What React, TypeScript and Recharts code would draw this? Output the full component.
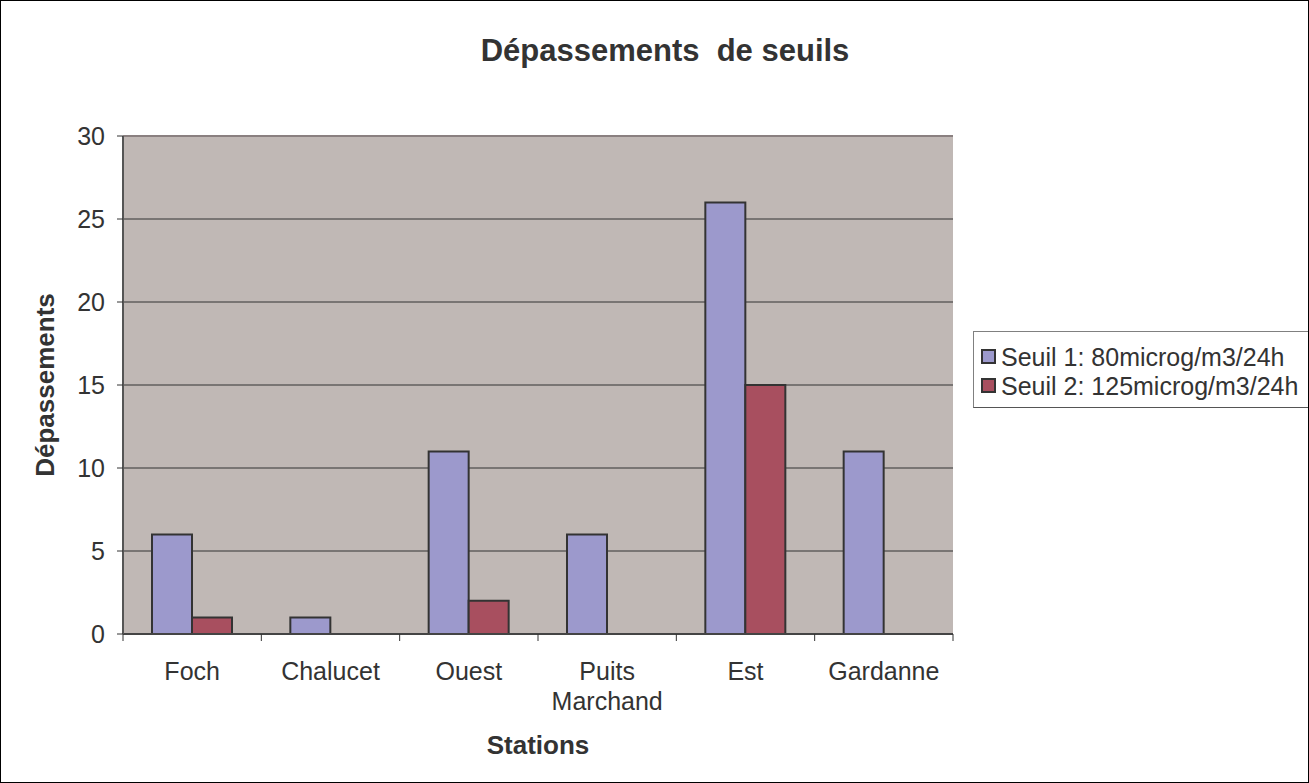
import React from 'react';
import { BarChart, Bar, XAxis, YAxis, CartesianGrid, ReferenceLine, Label } from 'recharts';

const categories = ['Foch', 'Chalucet', 'Ouest', 'Puits Marchand', 'Est', 'Gardanne'];
const seuil1 = [6, 1, 11, 6, 26, 11];
const seuil2 = [1, 0, 2, 0, 15, 0];
const yTicks = [0, 5, 10, 15, 20, 25, 30];
const series = [
  { key: 's1', name: 'Seuil 1: 80microg/m3/24h', color: '#9C99CC' },
  { key: 's2', name: 'Seuil 2: 125microg/m3/24h', color: '#A84F5F' },
];

const data = categories.map((c, i) => ({ name: c, s1: seuil1[i], s2: seuil2[i] }));

const FONT = '"Liberation Sans", Arial, sans-serif';
const TXT = '#333333';

const XTick = (props: any) => {
  const { x, y, payload } = props;
  const half = payload && payload.offset ? payload.offset : 69;
  const lines = String(payload.value).split(' ');
  const isLast = payload.value === categories[categories.length - 1];
  return (
    <g>
      <line x1={x - half} x2={x - half} y1={y} y2={y + 7} stroke="#333" strokeWidth={1} />
      {isLast && <line x1={x + half} x2={x + half} y1={y} y2={y + 7} stroke="#333" strokeWidth={1} />}
      {lines.map((l, i) => (
        <text key={i} x={x} y={y + 46 + i * 30} textAnchor="middle" fill={TXT} fontSize={25} fontFamily={FONT}>
          {l}
        </text>
      ))}
    </g>
  );
};

const LegendBox = () => (
  <div
    style={{
      position: 'absolute',
      left: 973,
      top: 331,
      width: 336,
      height: 77,
      boxSizing: 'border-box',
      borderTop: '1px solid #808080',
      borderLeft: '1px solid #808080',
      borderBottom: '1px solid #555',
      background: '#fff',
      fontFamily: FONT,
      fontSize: 25,
      lineHeight: '30px',
      color: TXT,
      paddingTop: 10,
      zIndex: 1,
    }}
  >
    {series.map((s) => (
      <div key={s.key} style={{ display: 'flex', alignItems: 'center', height: 29, paddingLeft: 7, whiteSpace: 'nowrap' }}>
        <span
          style={{
            display: 'inline-block',
            width: 15,
            height: 15,
            boxSizing: 'border-box',
            background: s.color,
            border: '2px solid #333',
            marginRight: 5,
          }}
        />
        <span>{s.name}</span>
      </div>
    ))}
  </div>
);

export default function App() {
  return (
    <div style={{ position: 'absolute', left: 0, top: 0, width: 1309, height: 783, background: '#fff', overflow: 'hidden' }}>
      <div
        style={{
          position: 'absolute',
          left: 0,
          top: 0,
          width: 1309,
          height: 783,
          boxSizing: 'border-box',
          border: '1px solid #000',
          pointerEvents: 'none',
          zIndex: 2,
        }}
      />
      <div
        style={{
          position: 'absolute',
          left: 0,
          top: 33,
          width: 1330,
          textAlign: 'center',
          fontFamily: FONT,
          fontWeight: 'bold',
          fontSize: 31,
          color: TXT,
          whiteSpace: 'pre',
          zIndex: 1,
        }}
      >
        {'Dépassements  de seuils'}
      </div>
      <LegendBox />
      <BarChart
        width={1309}
        height={783}
        data={data}
        margin={{ top: 136, right: 356, left: 0, bottom: 0 }}
        barGap={0}
        barSize={40}
      >
        <CartesianGrid vertical={false} stroke="#333" fill="#C0B8B5" fillOpacity={1} />
        <XAxis
          dataKey="name"
          height={149}
          tickLine={false}
          tickSize={0}
          tickMargin={0}
          interval={0}
          axisLine={{ stroke: '#444', strokeWidth: 2 }}
          tick={<XTick />}
        >
          <Label
            content={(p: any) => {
              const vb = p.viewBox;
              return (
                <text
                  x={vb.x + vb.width / 2}
                  y={vb.y + 120}
                  textAnchor="middle"
                  fontFamily={FONT}
                  fontWeight="bold"
                  fontSize={26}
                  fill={TXT}
                >
                  Stations
                </text>
              );
            }}
          />
        </XAxis>
        <YAxis
          width={123}
          domain={[0, 30]}
          ticks={yTicks}
          interval={0}
          tickSize={6}
          tickMargin={12}
          tickLine={{ stroke: '#333' }}
          axisLine={{ stroke: '#555', strokeWidth: 2 }}
          tick={{ fill: TXT, fontSize: 25, fontFamily: FONT }}
        >
          <Label
            content={(p: any) => {
              const vb = p.viewBox;
              const cx = 45;
              const cy = vb.y + vb.height / 2;
              return (
                <text
                  x={cx}
                  y={cy}
                  transform={`rotate(-90 ${cx} ${cy})`}
                  textAnchor="middle"
                  dominantBaseline="central"
                  fontFamily={FONT}
                  fontWeight="bold"
                  fontSize={26}
                  fill={TXT}
                >
                  Dépassements
                </text>
              );
            }}
          />
        </YAxis>
        <YAxis yAxisId="r" orientation="right" width={0} domain={[0, 30]} tick={false} tickLine={false} axisLine={{ stroke: '#8a8080', strokeWidth: 2 }} />
        <ReferenceLine y={30} stroke="#8a8080" strokeWidth={2} />
        {series.map((s) => (
          <Bar
            key={s.key}
            dataKey={s.key}
            name={s.name}
            fill={s.color}
            stroke="#333"
            strokeWidth={2}
            isAnimationActive={false}
          />
        ))}
      </BarChart>
    </div>
  );
}
